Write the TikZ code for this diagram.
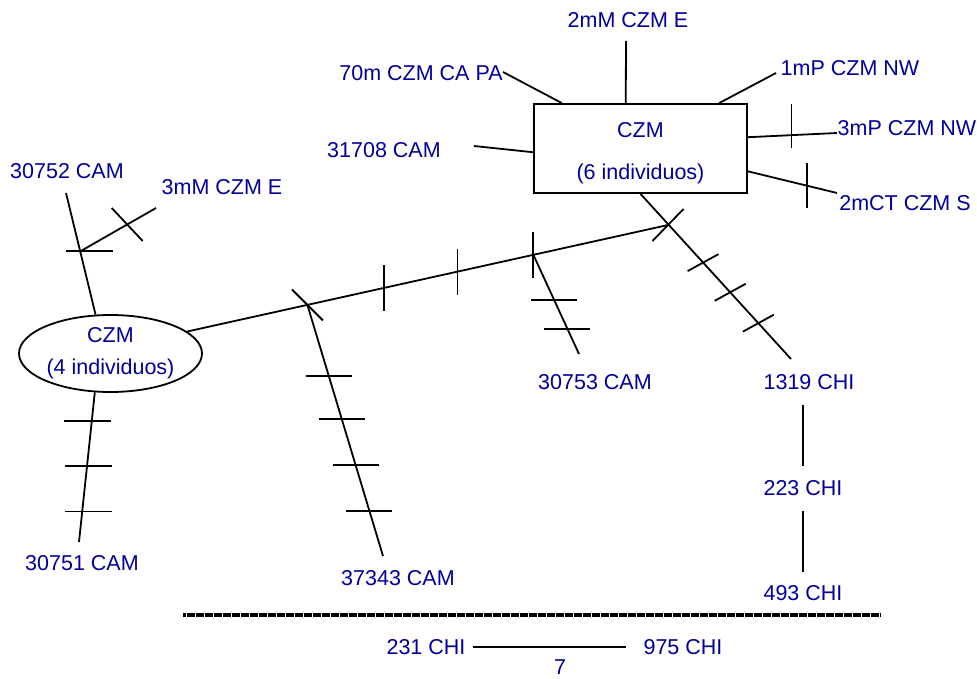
\documentclass[tikz,border=0pt]{standalone}
\usepackage{fontspec}
\setmainfont{Liberation Sans}
\usetikzlibrary{shapes.geometric,calc}
\definecolor{labelblue}{RGB}{0,0,153}

\begin{document}
\begin{tikzpicture}[x=1pt, y=-1pt,
    every node/.style={font=\fontsize{21.5}{26}\selectfont, text=labelblue},
    lbl/.style={inner sep=0pt, text height=15.5pt, text depth=0pt},
    groupbox/.style={rectangle, draw=black, line width=1.8pt, minimum width=213pt, minimum height=89pt, align=center, inner sep=0pt},
    groupoval/.style={ellipse, draw=black, line width=1.8pt, minimum width=183pt, minimum height=77pt, align=center, inner sep=0pt},
    link/.style={line width=1.8pt, draw=black},
    tick/.style={line width=1.8pt, draw=black},
    sepline/.style={line width=4pt, draw=black, dash pattern=on 1.5pt off 0.3pt}
]
\useasboundingbox (0,0) rectangle (977,679);

% haplotype groups
\node[groupbox] (czm6) at (640.5,148.5) {\rule{0pt}{23.5pt}CZM\\[16pt](6 individuos)};
\node[groupoval] (czm4) at (110.5,353.5) {CZM\\[6pt](4 individuos)};

% labels
\node[lbl] (l2mM) at (628,20) {2mM CZM E};
\node[lbl] (l70m) at (421,73) {70m CZM CA PA};
\node[lbl] (l1mP) at (850,68) {1mP CZM NW};
\node[lbl] (l3mP) at (907,128) {3mP CZM NW};
\node[lbl] (l31708) at (384,150) {31708 CAM};
\node[lbl] (l2mCT) at (905,203) {2mCT CZM S};
\node[lbl] (l30752) at (67,171) {30752 CAM};
\node[lbl] (l3mM) at (222,187) {3mM CZM E};
\node[lbl] (l30751) at (82,563) {30751 CAM};
\node[lbl] (l37343) at (398,578) {37343 CAM};
\node[lbl] (l30753) at (595,382) {30753 CAM};
\node[lbl] (l1319) at (809,382) {1319 CHI};
\node[lbl] (l223) at (803,488) {223 CHI};
\node[lbl] (l493) at (803,593) {493 CHI};
\node[lbl] (l231) at (426,647) {231 CHI};
\node[lbl] (l975) at (683,647) {975 CHI};
\node[lbl] (l7) at (560,667) {7};

% free ends
\coordinate (e70m) at (503,72);
\coordinate (e2mM) at (626,41);
\coordinate (e1mP) at (776,73);
\coordinate (e3mP) at (837,133);
\coordinate (e31708) at (474,146);
\coordinate (e2mCT) at (837,193);
\coordinate (e30752) at (66,193);
\coordinate (e3mM) at (156,208);
\coordinate (e30751) at (79,542);
\coordinate (e37343) at (383,556);
\coordinate (e30753) at (579,354);
\coordinate (e1319) at (791,359);
\coordinate (j4) at (668,225);
\coordinate (sepL) at (183,615);
\coordinate (sepR) at (880,615);

% branches of the big group
\draw[link] (czm6.150) -- (e70m);
\draw[link] (czm6.108) -- (e2mM);
\draw[link] (czm6.30) -- (e1mP);
\draw[link] (czm6.6) -- (e3mP);
\draw[link] (czm6.348) -- (e2mCT);
\draw[link] (czm6.182) -- (e31708);
\draw[link] (czm6.south) -- (e1319);
\draw[tick] ($(czm6.6)!0.49!(e3mP)$) +(0,-31) -- +(0,13);
\draw[tick] ($(czm6.348)!0.667!(e2mCT)$) +(0,-22.5) -- +(0,22.5);
\draw[tick] (j4) +(-15.5,16) -- +(15.5,-16);
\foreach \f in {0.416,0.596,0.783}
  \draw[tick] ($(czm6.south)!\f!(e1319)$) +(-15.5,8.5) -- +(15.5,-8.5);

% branches of the small group
\draw[link] (czm4.111) -- (e30752);
\draw[link] (czm4.248) -- (e30751);
\draw[link] (czm4.16) -- (j4);
\coordinate (j0) at ($(e30752)!0.48!(czm4.111)$);
\coordinate (j1) at ($(czm4.16)!0.25!(j4)$);
\coordinate (j3) at ($(czm4.16)!0.72!(j4)$);
\draw[link] (j0) -- (e3mM);
\draw[link] (j1) -- (e37343);
\draw[link] (j3) -- (e30753);

\draw[tick] (j0) +(-14,0) -- +(33,0);
\draw[tick] ($(j0)!0.62!(e3mM)$) +(-15.5,-16.5) -- +(15.5,16.5);
\draw[tick] (j1) +(-15.5,-15.5) -- +(15.5,15.5);
\draw[tick] ($(czm4.16)!0.409!(j4)$) +(0,-23) -- +(0,23);
\draw[tick] ($(czm4.16)!0.562!(j4)$) +(0,-23) -- +(0,23);
\draw[tick] (j3) +(0,-23) -- +(0,23);
\foreach \f in {0.283,0.454,0.637,0.821}
  \draw[tick] ($(j1)!\f!(e37343)$) +(-23,0) -- +(23,0);
\foreach \f in {0.455,0.747}
  \draw[tick] ($(j3)!\f!(e30753)$) +(-23,0) -- +(23,0);
\draw[tick] ($(czm4.248)!0.19!(e30751)$) +(-28,0) -- +(19,0);
\draw[tick] ($(czm4.248)!0.493!(e30751)$) +(-22.5,0) -- +(24.5,0);
\draw[tick] ($(czm4.248)!0.796!(e30751)$) +(-17.5,0) -- +(29.5,0);

% CHI chain
\draw[link, shorten <=15.5pt, shorten >=14pt] (l223.north |- l1319.south) -- (l223.north);
\draw[link, shorten <=15pt, shorten >=13.5pt] (l223.south) -- (l493.north);

% separate network
\draw[sepline] (sepL) -- (sepR);
\draw[link, shorten <=7.5pt, shorten >=17.5pt] (l231.east) -- (l975.west);

\end{tikzpicture}
\end{document}
